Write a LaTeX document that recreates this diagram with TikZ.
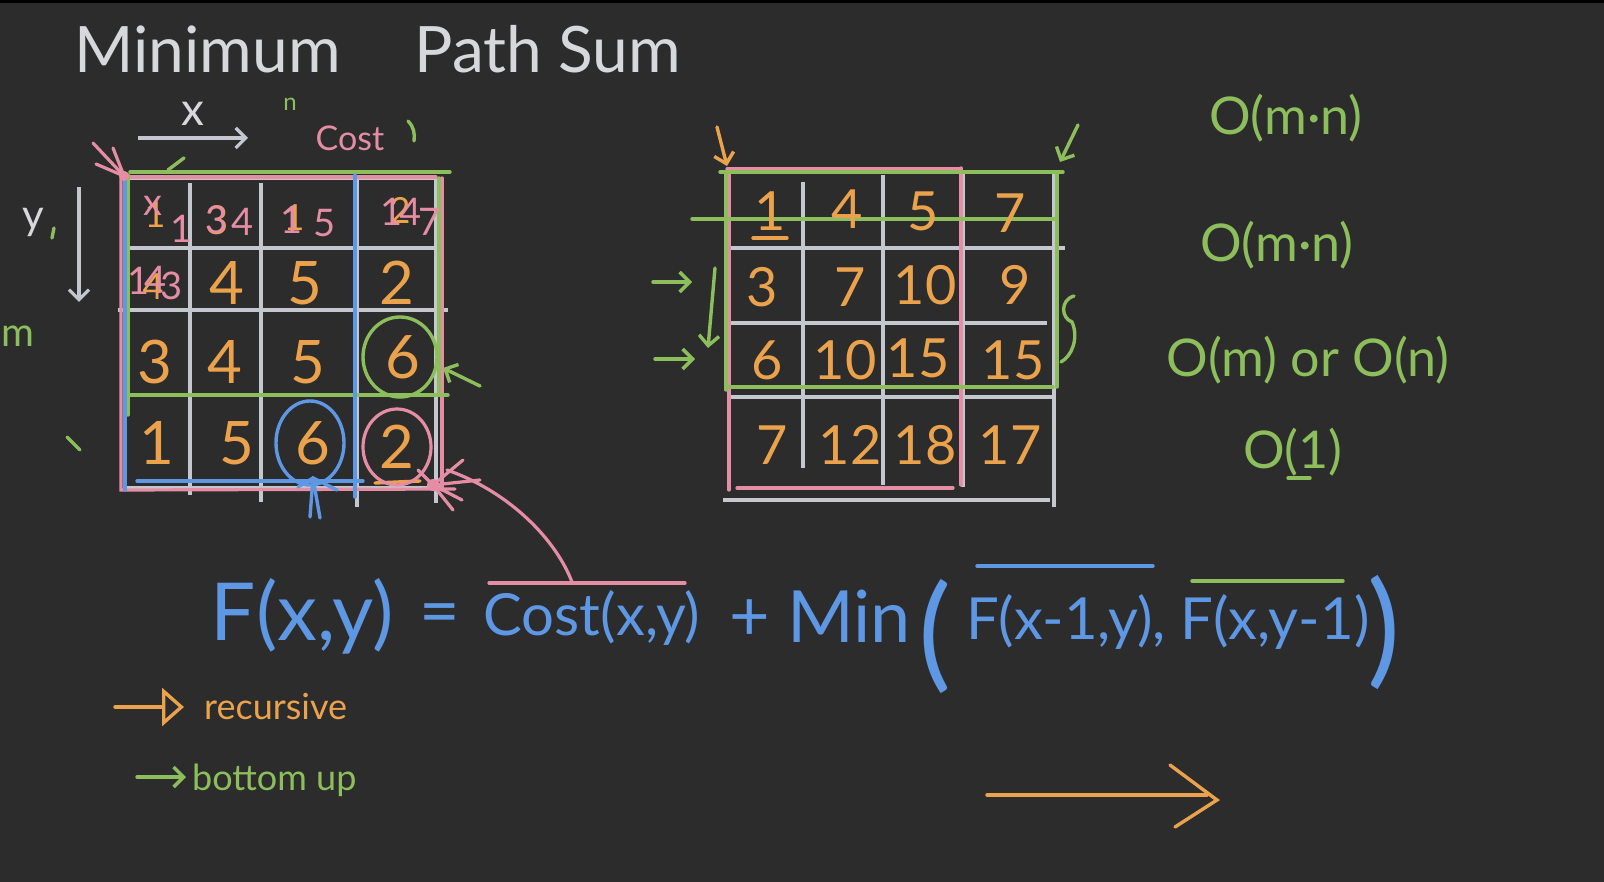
\documentclass[tikz,border=0pt]{standalone}
\usepackage{fontspec}
\setmainfont{Lato}
\usetikzlibrary{arrows.meta,positioning}
\definecolor{board}{HTML}{2C2C2C}
\definecolor{chalk}{HTML}{D6D8DC}
\definecolor{gridc}{HTML}{C4C8CE}
\definecolor{orangec}{HTML}{EBA24C}
\definecolor{pinkc}{HTML}{E58DA4}
\definecolor{bluec}{HTML}{5E97E4}
\definecolor{greenc}{HTML}{8DBE5C}
\newcommand{\fs}[1]{\fontsize{#1}{#1}\selectfont}

\begin{document}
\begin{tikzpicture}[
    x=1pt, y=-1pt,
    >={Straight Barb[length=10pt,width=20pt]},
    wline/.style={gridc, line width=3.2pt},
    gline/.style={greenc, line width=3.4pt, line cap=round},
    pline/.style={pinkc, line width=3.2pt, line cap=round},
    bline/.style={bluec, line width=3.4pt, line cap=round},
    oline/.style={orangec, line width=3.4pt, line cap=round},
    num/.style={text=orangec, font=\fs{60}, inner sep=0pt},
    small/.style={text=orangec, font=\fs{36}, inner sep=0pt},
    pnum/.style={text=pinkc, font=\fs{38}, inner sep=0pt},
    cplx/.style={text=greenc, font=\fs{52}, inner sep=0pt},
    eq/.style={text=bluec, inner sep=0pt},
    note/.style={inner sep=0pt}
]

% Board
\fill[board] (0,0) rectangle (1604,882);
\useasboundingbox (0,0) rectangle (1604,882);
\fill[black] (0,0) rectangle (1604,3);

% Title
\node[note, text=chalk, font=\fs{64}, anchor=base west] (title) at (74,73)
    {Minimum\hspace{74pt}Path Sum};

% =====================================================
% LEFT GRID (costs)
% =====================================================

% Axes
\node[note, text=chalk, font=\fs{46}] (xlab) at (193,114) {x};
\draw[wline, ->] (138,138) -- (248,138);
\node[note, text=chalk, font=\fs{42}] (ylab) at (33,222) {y};
\draw[wline, ->] (79,187) -- (79,302);
\node[note, text=greenc, font=\fs{40}, anchor=west] (mlab) at (1,336) {m};
\node[note, text=greenc, font=\fs{24}] (nlab) at (290,104) {n};
\node[note, text=pinkc, font=\fs{34}] (costlab) at (350,138) {Cost};
\draw[gline] (408,121) .. controls (414,127) and (415,134) .. (414,141);
\draw[gline] (168,170) -- (184,158);
\draw[gline] (54,228) -- (52,238);
\draw[gline] (67,437) -- (80,450);

% White lines
\foreach \x/\a/\b in {190/183/495, 261/183/502, 357/177/507, 436/177/503}
    \draw[wline] (\x,\a) -- (\x,\b);
\foreach \y/\a/\b in {178/127/436, 248/129/437, 310/118/448, 488/125/440}
    \draw[wline] (\a,\y) -- (\b,\y);

% Pink border
\draw[pline] (125,177) -- (436,177);
\draw[pline] (121,175) -- (121,490) -- (455,489);
\draw[pline] (442,178) -- (442,490);

% Green block
\draw[gline] (130,172) -- (450,172);
\draw[gline] (128,175) -- (128,415);
\draw[gline] (128,395) -- (448,395);
\draw[gline] (439,178) -- (439,395);

% Blue block
\draw[bline] (125,173) -- (125,490);
\draw[bline] (355,175) -- (355,497);
\draw[bline] (137,481) -- (363,481);

% Row 1 (overwritten)
\node[small] (a1) at (155,215) {1};
\node[num, font=\fs{40}] (a2) at (217,220) {3};
\node[small] (a3) at (294,218) {1};
\node[small] (a4) at (400,210) {2};
\node[pnum] (p1) at (153,206) {x};
\node[pnum] (p2) at (182,229) {1};
\node[pnum] (p3) at (217,220) {3};
\node[pnum] (p4) at (243,222) {4};
\node[pnum] (p5) at (292,220) {1};
\node[pnum] (p6) at (325,223) {5};
\node[pnum] (p7) at (392,212) {1};
\node[pnum] (p8) at (411,212) {4};
\node[pnum] (p9) at (430,222) {7};

% Row 2
\node[pnum] (q1) at (139,281) {1};
\node[small] (q2) at (153,287) {4};
\node[pnum] (q3) at (156,280) {4};
\node[pnum] (q4) at (172,286) {3};
\foreach \n/\x/\y in {4/227/283, 5/305/283, 2/397/283,
                      3/155/362, 4/225/362, 5/308/362, 6/403/357,
                      1/157/443, 5/237/443, 6/313/443, 2/397/447}
    \node[num] (l-\x-\y) at (\x,\y) {\n};
\draw[oline] (375,483) -- (420,481);

% Circles
\draw[gline] (400,357) ellipse [x radius=37, y radius=40];
\draw[bline] (310,443) ellipse [x radius=34, y radius=42];
\draw[pline] (397,447) ellipse [x radius=34, y radius=38];

% Pointers
\draw[gline, ->] (480,386) -- (443,368);
\draw[bline] (310,517) -- (313,478);
\draw[bline] (320,518) -- (313,478);
\draw[bline] (298,487) -- (313,478) -- (337,490);
\foreach \x/\y in {93/143, 113/148, 96/164}
    \draw[pline] (\x,\y) -- (124,176);
\fill[pinkc] (124,176) circle (5);
\foreach \x/\y in {463/460, 480/480, 453/510, 462/500, 418/470}
    \draw[pline] (\x,\y) -- (433,485);
\fill[pinkc] (433,485) circle (6);
\draw[pline] (447,470) .. controls (510,492) and (556,540) .. (572,582);

% =====================================================
% RIGHT GRID (sums)
% =====================================================

% White lines
\foreach \x/\a/\b in {803/182/468, 883/175/485, 963/172/487, 1054/172/507}
    \draw[wline] (\x,\a) -- (\x,\b);
\foreach \y/\a/\b in {248/727/1065, 323/727/1047, 397/727/1053, 500/723/1050}
    \draw[wline] (\a,\y) -- (\b,\y);

% Pink lines
\draw[pline] (727,169) -- (961,169);
\draw[pline] (729,172) -- (729,490);
\draw[pline] (961,168) -- (961,485);
\draw[pline] (737,488) -- (953,488);

% Green lines
\draw[gline] (720,172) -- (1063,172);
\draw[gline] (692,219) -- (1057,219);
\draw[gline] (726,172) -- (726,390);
\draw[gline] (727,387) -- (1053,387);
\draw[gline] (1057,172) -- (1057,387);

% Values
\foreach \n/\x/\y in {1/770/211, 4/847/209, 5/923/211, 7/1010/213,
                      3/762/287, 7/850/287, 10/925/285, 9/1015/285,
                      6/767/360, 10/845/360, 15/918/358, 15/1013/360,
                      7/772/445, 12/850/445, 18/925/445, 17/1010/445}
    \node[num, font=\fs{54}] (r-\x-\y) at (\x,\y) {\n};
\draw[oline] (753,238) -- (787,238);

% Pointers
\draw[oline, ->] (717,127) -- (727,166);
\draw[gline, ->] (1078,125) -- (1060,162);
\draw[gline, ->] (653,282) -- (692,282);
\draw[gline, ->] (655,359) -- (695,359);
\draw[gline, ->] (715,268) -- (708,348);
\draw[gline] (1074,296) .. controls (1060,300) and (1061,318) .. (1072,322)
    .. controls (1079,338) and (1072,356) .. (1061,362);

% =====================================================
% COMPLEXITY
% =====================================================

\node[cplx] (c1) at (1286,118) {O(m·n)};
\node[cplx] (c2) at (1277,245) {O(m·n)};
\node[cplx] (c3) at (1308,360) {O(m) or O(n)};
\node[cplx] (c4) at (1293,452) {O(1)};
\draw[gline] (1288,478) -- (1310,478);

% =====================================================
% RECURRENCE
% =====================================================

\node[eq, font=\fs{80}] (fxy) at (302,616) {F(x,y)};
\node[eq, font=\fs{70}] (eqs) at (440,620) {=};
\node[eq, font=\fs{58}] (cost) at (592,618) {Cost(x,y)};
\node[eq, font=\fs{70}] (plus) at (750,620) {+};
\node[eq, font=\fs{72}] (minw) at (849,616) {Min};
\node[eq, font=\fs{124}] (lpar) at (935,636) {(};
\node[eq, font=\fs{58}] (fl) at (1066,622) {F(x-1,y),};
\node[eq, font=\fs{58}] (fu) at (1275,622) {F(x,y-1)};
\node[eq, font=\fs{124}] (rpar) at (1384,632) {)};
\draw[pline] (489,583) -- (685,583);
\draw[bline] (977,566) -- (1153,566);
\draw[gline] (1192,581) -- (1343,581);

% =====================================================
% LEGEND
% =====================================================

\draw[oline, -{Triangle[open,length=22pt,width=38pt]}] (115,707) -- (184,707);
\node[note, text=orangec, font=\fs{36}, anchor=west] (rec) at (204,707) {recursive};
\draw[gline, ->] (137,777) -- (186,777);
\node[note, text=greenc, font=\fs{36}, anchor=west] (bot) at (192,780) {bottom up};

\draw[oline] (987,795) -- (1207,795);
\draw[oline] (1170,765) -- (1217,800) -- (1175,827);

\end{tikzpicture}
\end{document}
